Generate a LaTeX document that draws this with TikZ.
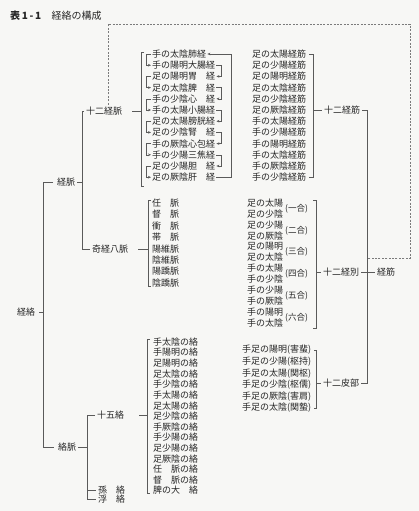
\documentclass[tikz,border=0pt]{standalone}
\usepackage{fontspec}
\setmainfont{Noto Sans CJK JP}
\usepackage{tikz}
\usetikzlibrary{positioning, calc, arrows.meta}
\definecolor{InkGray}{HTML}{262626}
\definecolor{RuleGray}{HTML}{5A5A5A}
\definecolor{PaperBg}{HTML}{F7F7F5}

\begin{document}
\begin{tikzpicture}[
    x=1pt, y=-1pt,
    font=\fontsize{9}{10}\selectfont,
    item/.style={anchor=west, inner sep=1pt, text=InkGray},
    branch/.style={item, inner sep=2pt},
    line/.style={draw=RuleGray, line width=0.6pt},
    flow/.style={line, -{Stealth[length=3pt, width=2.6pt]}},
    dashline/.style={draw=RuleGray!80, line width=0.6pt, dash pattern=on 2pt off 1.4pt}
]
    \fill[PaperBg] (0,0) rectangle (419,511);
    \useasboundingbox (0,0) rectangle (419,511);

    \node[item, font=\fontsize{10}{12}\selectfont] (Title) at (9,16) {\textbf{表\,1\,-\,1}\hspace{1.05em}経絡の構成};

    % left tree
    \node[branch] (Keiraku) at (15,312) {経絡};
    \node[branch] (Keimyaku) at (55,182) {経脈};
    \node[branch] (Rakumyaku) at (56,447) {絡脈};
    \node[branch] (Junikei) at (84,111) {十二経脈};
    \node[branch] (Kikei) at (90,249) {奇経八脈};
    \node[branch] (Jugo) at (95,415) {十五絡};
    \node[branch] (Sonraku) at (96,490) {孫　絡};
    \node[branch] (Furaku) at (96,499) {浮　絡};

    % right side
    \node[branch] (Kin) at (322,110) {十二経筋};
    \node[branch] (Betsu) at (321,272) {十二経別};
    \node[branch] (Hibu) at (321,383) {十二皮部};
    \node[branch] (Keikin) at (375,272) {経筋};

    % lists
    \foreach \t [count=\i] in {手の太陰肺経, 手の陽明大腸経, 足の陽明胃　経, 足の太陰脾　経, 手の少陰心　経, 手の太陽小腸経, 足の太陽膀胱経, 足の少陰腎　経, 手の厥陰心包経, 手の少陽三焦経, 足の少陽胆　経, 足の厥陰肝　経}
        \node[item] (M\i) at (151,{54+11.2*(\i-1)}) {\t};
    \foreach \t [count=\i] in {足の太陽経筋, 足の少陽経筋, 足の陽明経筋, 足の太陰経筋, 足の少陰経筋, 足の厥陰経筋, 手の太陽経筋, 手の少陽経筋, 手の陽明経筋, 手の太陰経筋, 手の厥陰経筋, 手の少陰経筋}
        \node[item] (S\i) at (251,{54+11.2*(\i-1)}) {\t};
    \foreach \t [count=\i] in {任　脈, 督　脈, 衝　脈, 帯　脈, 陽維脈, 陰維脈, 陽蹻脈, 陰蹻脈}
        \node[item] (K\i) at (151,{203+11.4*(\i-1)}) {\t};
    \foreach \t [count=\i] in {足の太陽, 足の少陰, 足の少陽, 足の厥陰, 足の陽明, 足の太陰, 手の太陽, 手の少陰, 手の少陽, 手の厥陰, 手の陽明, 手の太陰}
        \node[item] (B\i) at (246,{203+10.9*(\i-1)}) {\t};
    \foreach \n [count=\i] in {一, 二, 三, 四, 五, 六}
        \node[item, font=\fontsize{8.5}{10}\selectfont] (G\i) at (284,{208.5+21.8*(\i-1)}) {({\n}合)};
    \foreach \t [count=\i] in {手足の陽明(害蜚), 手足の少陽(枢持), 手足の太陽(関枢), 手足の少陰(枢儒), 手足の厥陰(害肩), 手足の太陰(関蟄)}
        \node[item] (H\i) at (241,{350+11.6*(\i-1)}) {\t};
    \foreach \t [count=\i] in {手太陰の絡, 手陽明の絡, 足陽明の絡, 足太陰の絡, 手少陰の絡, 手太陽の絡, 足太陽の絡, 足少陰の絡, 手厥陰の絡, 手少陽の絡, 足少陽の絡, 足厥陰の絡, 任　脈の絡, 督　脈の絡, 脾の大　絡}
        \node[item] (R\i) at (152,{342+10.6*(\i-1)}) {\t};

    % bracket corners
    \coordinate (LBr) at (43,0);
    \coordinate (KeiBr) at (82,0);
    \coordinate (RakuBr) at (87,0);
    \coordinate (MTop) at (141,52);
    \coordinate (MBot) at (141,186);
    \coordinate (KTop) at (148,200);
    \coordinate (KBot) at (148,286);
    \coordinate (RTop) at (147,339);
    \coordinate (RBot) at (147,493);
    \coordinate (SBr) at (313,0);
    \coordinate (BTop) at (316,200);
    \coordinate (BBot) at (316,328);
    \coordinate (HBr) at (316,0);
    \coordinate (EndBr) at (367,0);
    \coordinate (LoopX) at (231,54);
    \coordinate (DashTR) at (410,24);
    \coordinate (DashEnd) at (367,258);

    % left tree lines
    \draw[line] ([xshift=2pt]Keiraku.east) -- (Keiraku.east -| LBr);
    \draw[line] ([xshift=-2pt]Keimyaku.west) -- (Keimyaku.west -| LBr) -- (Rakumyaku.west -| LBr) -- ([xshift=-2pt]Rakumyaku.west);
    \draw[line] (Keimyaku.east) -- (Keimyaku.east -| KeiBr);
    \draw[line] (Junikei.west) -- (Junikei.west -| KeiBr) -- (Kikei.west -| KeiBr) -- (Kikei.west);
    \draw[line] (Rakumyaku.east) -- (Rakumyaku.east -| RakuBr);
    \draw[line] (Jugo.west) -- (Jugo.west -| RakuBr) -- (Furaku.west -| RakuBr) -- (Furaku.west);
    \draw[line] (Sonraku.west) -- (Sonraku.west -| RakuBr);

    % brackets round the lists
    \draw[line] ([xshift=8pt]Junikei.east) -- (Junikei.east -| MTop);
    \draw[line] ([xshift=3pt]MTop) -- (MTop) -- (MBot) -- ([xshift=3pt]MBot);
    \draw[line] ([xshift=8pt]Kikei.east) -- (Kikei.east -| KTop);
    \draw[line] ([xshift=3pt]KTop) -- (KTop) -- (KBot) -- ([xshift=3pt]KBot);
    \draw[line] ([xshift=13pt]Jugo.east) -- (Jugo.east -| RTop);
    \draw[line] ([xshift=3pt]RTop) -- (RTop) -- (RBot) -- ([xshift=3pt]RBot);

    % flow of the twelve channels
    \foreach \i in {1,3,...,11} {
        \pgfmathtruncatemacro{\j}{\i+1}
        \draw[flow] (M\i.west) -- ++(-5,0) |- (M\j.west);
    }
    \foreach \i in {2,4,...,10} {
        \pgfmathtruncatemacro{\j}{\i+1}
        \draw[flow] (M\i.east) -- ++(5,0) |- (M\j.east);
    }
    \draw[flow] (M12.east) -| (LoopX) -- (M1.east);

    % right brackets
    \draw[line] ([xshift=2pt]S1.east) -- (S1.east -| SBr) -- (S12.east -| SBr) -- ([xshift=2pt]S12.east);
    \draw[line] (Kin.west -| SBr) -- (Kin.west);
    \draw[line] ([xshift=-3pt]BTop) -- (BTop) -- (BBot) -- ([xshift=-3pt]BBot);
    \draw[line] (Betsu.west -| BTop) -- (Betsu.west);
    \draw[line] ([xshift=2pt]H1.east) -- (H1.east -| HBr) -- (H6.east -| HBr) -- ([xshift=2pt]H6.east);
    \draw[line] (Hibu.west -| HBr) -- (Hibu.west);
    \draw[line] (Kin.east) -- (Kin.east -| EndBr) -- (Hibu.east -| EndBr) -- (Hibu.east);
    \draw[line] (Betsu.east) -- (Keikin.west);
    \draw[dashline] ([xshift=4pt]Junikei.north) |- (DashTR) |- (DashEnd);
\end{tikzpicture}
\end{document}
